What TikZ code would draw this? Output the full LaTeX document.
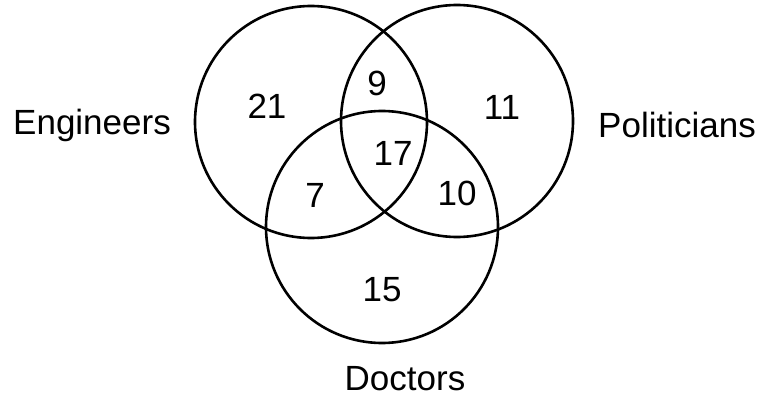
\documentclass[tikz,border=0pt]{standalone}
\usepackage{fontspec}
\setmainfont{Liberation Sans}
\usetikzlibrary{positioning}
\tikzstyle{set} = [circle, draw=black, line width=2.6pt, minimum size=232pt, inner sep=0pt]
\tikzstyle{count} = [inner sep=0pt, font=\fontsize{35}{40}\selectfont]
\tikzstyle{label} = [inner sep=0pt, anchor=base, font=\fontsize{35}{40}\selectfont]

\begin{document}
\begin{tikzpicture}[x=1pt, y=-1pt]
    \useasboundingbox (0,0) rectangle (770,398);
    % the three sets
    \node (eng) [set] at (311,122) {};
    \node (pol) [set] at (457,121) {};
    \node (doc) [set] at (382,227) {};
    % set names
    \node (engname) [label] at (92,135) {Engineers};
    \node (polname) [label] at (677,138) {Politicians};
    \node (docname) [label] at (405,390) {Doctors};
    % counts
    \node (onlyeng) [count] at (267,106) {21};
    \node (engpol) [count] at (377,83) {9};
    \node (onlypol) [count] at (502,107) {11};
    \node (all) [count] at (393,153) {17};
    \node (engdoc) [count] at (315,195) {7};
    \node (poldoc) [count] at (457,193) {10};
    \node (onlydoc) [count] at (382,290) {15};
\end{tikzpicture}
\end{document}
